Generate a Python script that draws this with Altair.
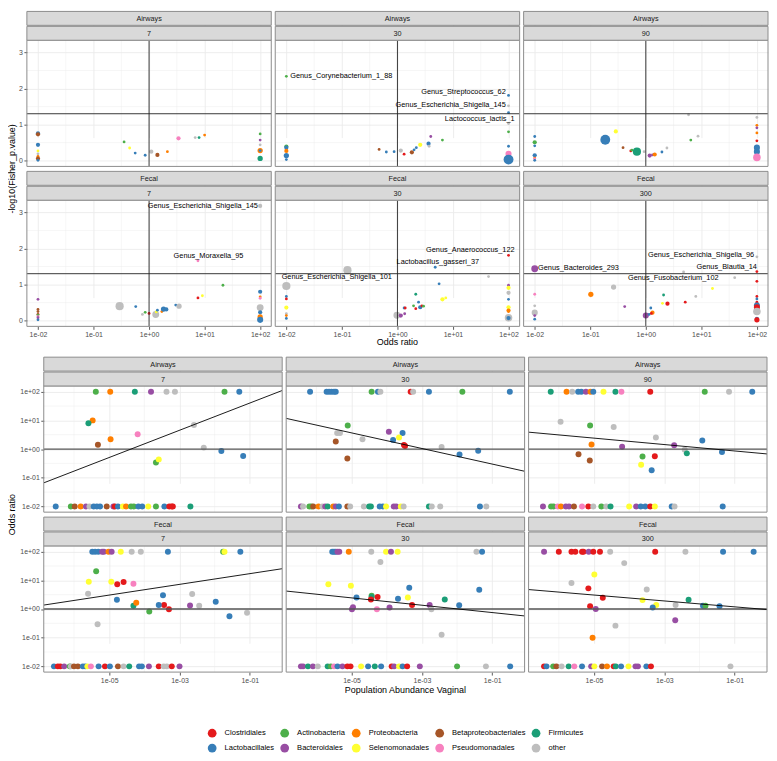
import altair as alt
import pandas as pd

FONT = "Liberation Sans"

CODE = {"C": "Clostridiales", "L": "Lactobacillales", "A": "Actinobacteria", "B": "Bacteroidales",
        "P": "Proteobacteria", "S": "Selenomonadales", "E": "Betaproteobacteriales",
        "M": "Pseudomonadales", "F": "Firmicutes", "O": "other"}
LEGEND_ORDER = ["Clostridiales", "Actinobacteria", "Proteobacteria", "Betaproteobacteriales", "Firmicutes",
                "Lactobacillales", "Bacteroidales", "Selenomonadales", "Pseudomonadales", "other"]
LEGEND_COLORS = ["#E41A1C", "#4DAF4A", "#FF7F00", "#A65628", "#1B9E77",
                 "#377EB8", "#984EA3", "#FFFF33", "#F781BF", "#BEBEBE"]

SITES = ["Airways", "Airways", "Airways", "Fecal", "Fecal", "Fecal"]
TIMES = ["7", "30", "90", "7", "30", "300"]

# ---------------- top: (order, log10 odds ratio, -log10 p, count) ----------------
TOP_A7 = [
    ("L", -2, 0.76, 2), ("E", -2, 0.73, 2), ("L", -2, 0.44, 2), ("S", -2, 0.27, 1), ("O", -2, 0.19, 1),
    ("P", -2, 0.12, 1), ("E", -2, 0.06, 2), ("L", -2, 0.01, 1),
    ("A", -0.45, 0.52, 1), ("S", -0.35, 0.35, 1), ("L", -0.25, 0.21, 1), ("L", -0.07, 0.15, 1),
    ("O", 0.04, 0.25, 2), ("E", 0.15, 0.16, 2), ("P", 0.33, 0.25, 1), ("M", 0.53, 0.62, 2),
    ("O", 0.83, 0.64, 1), ("F", 0.9, 0.64, 1), ("P", 1.0, 0.71, 1),
    ("A", 2, 0.74, 1), ("B", 2, 0.57, 1), ("O", 2, 0.44, 1), ("P", 2, 0.28, 3), ("L", 2, 0.28, 1), ("F", 2, 0.06, 3),
]
TOP_A30 = [
    ("A", -2, 2.34, 1), ("A", -2, 0.39, 2), ("L", -2, 0.36, 2), ("P", -2, 0.27, 2), ("L", -2, 0.14, 3), ("L", -2, 0.03, 1),
    ("E", -0.33, 0.31, 1), ("L", -0.2, 0.24, 1), ("L", -0.06, 0.25, 1), ("O", 0.06, 0.28, 2), ("C", 0.12, 0.18, 1),
    ("E", 0.26, 0.23, 2), ("L", 0.3, 0.3, 1), ("L", 0.34, 0.36, 1), ("S", 0.41, 0.44, 2), ("L", 0.56, 0.47, 2),
    ("O", 0.57, 0.40, 1), ("B", 0.6, 0.67, 1), ("A", 0.81, 0.57, 1),
    ("L", 2, 1.81, 1), ("O", 2, 1.52, 1), ("L", 2, 1.33, 1), ("O", 2, 1.03, 1), ("A", 2, 0.8, 1), ("L", 2, 0.4, 1),
    ("M", 2, 0.19, 4), ("L", 2, 0.03, 10),
]
TOP_A90 = [
    ("L", -2, 0.67, 1), ("A", -2, 0.51, 2), ("L", -2, 0.41, 1), ("L", -2, 0.15, 2), ("P", -2, 0.07, 1),
    ("M", -2, 0.05, 1), ("L", -2, 0.01, 1),
    ("L", -0.73, 0.58, 10), ("S", -0.54, 0.81, 2), ("E", -0.41, 0.36, 1), ("C", -0.27, 0.27, 1), ("A", -0.25, 0.29, 1),
    ("F", -0.16, 0.25, 7), ("O", -0.03, 0.25, 1), ("B", 0.07, 0.14, 2), ("B", 0.12, 0.16, 1), ("P", 0.16, 0.17, 2),
    ("L", 0.29, 0.24, 1), ("O", 0.38, 0.35, 1), ("O", 0.77, 1.27, 1), ("A", 0.81, 0.57, 1), ("O", 0.94, 0.68, 1),
    ("O", 2, 1.2, 1), ("P", 2, 0.98, 1), ("B", 2, 0.91, 1), ("P", 2, 0.77, 1), ("C", 2, 0.55, 1),
    ("L", 2, 0.36, 4), ("L", 2, 0.25, 4), ("M", 2, 0.09, 6),
]
TOP_F7 = [
    ("O", 2, 3.18, 2), ("M", 0.88, 1.66, 1), ("A", 1.33, 0.98, 1), ("S", 0.96, 0.69, 1), ("C", 0.88, 0.63, 1),
    ("O", -0.53, 0.40, 7), ("L", -0.24, 0.39, 1), ("O", -0.12, 0.17, 1), ("A", -0.07, 0.23, 1), ("C", 0.0, 0.2, 1),
    ("O", 0.12, 0.17, 5), ("S", 0.13, 0.24, 1), ("L", 0.15, 0.29, 1), ("P", 0.23, 0.25, 1), ("L", 0.26, 0.32, 3),
    ("L", 0.31, 0.31, 2), ("L", 0.48, 0.43, 1), ("O", 0.54, 0.40, 3),
    ("B", -2, 0.59, 1), ("E", -2, 0.31, 1), ("E", -2, 0.25, 1), ("C", -2, 0.17, 1), ("A", -2, 0.16, 1),
    ("M", -2, 0.11, 1), ("B", -2, 0.08, 1), ("L", -2, 0.02, 1),
    ("L", 2, 0.8, 2), ("P", 2, 0.66, 1), ("M", 2, 0.62, 1), ("S", 2, 0.40, 1), ("O", 2, 0.36, 5),
    ("L", 2, 0.23, 2), ("P", 2, 0.1, 3), ("L", 2, 0.02, 4),
]
TOP_F30 = [
    ("C", 2, 1.81, 1), ("L", 0.68, 1.48, 1), ("O", -0.9, 1.40, 7), ("O", 1.64, 1.22, 1), ("O", -2, 0.96, 7),
    ("L", 0.75, 1.02, 1), ("F", 0.33, 0.73, 1), ("L", 0.38, 0.51, 1), ("S", 0.81, 0.59, 2), ("S", 0.87, 0.63, 1),
    ("A", 0.29, 0.41, 1), ("C", 0.33, 0.33, 1), ("L", 0.41, 0.37, 2), ("C", 0.44, 0.41, 1), ("A", 0.47, 0.4, 1),
    ("L", 0.12, 0.35, 1), ("C", 0.14, 0.35, 1), ("O", -0.01, 0.15, 5), ("B", 0.06, 0.14, 2), ("B", 0.13, 0.19, 1),
    ("L", -2, 0.67, 1), ("C", -2, 0.6, 1), ("S", -2, 0.36, 2), ("O", -2, 0.19, 1), ("P", -2, 0.14, 1), ("L", -2, 0.06, 1),
    ("B", 2, 0.98, 1), ("S", 2, 0.91, 2), ("O", 2, 0.77, 2), ("L", 2, 0.59, 1), ("S", 2, 0.37, 2),
    ("P", 2, 0.28, 2), ("P", 2, 0.25, 1), ("O", 2, 0.08, 6), ("L", 2, 0.07, 2),
]
TOP_F300 = [
    ("B", -2, 1.44, 5), ("O", 2, 1.77, 1), ("C", 2, 1.36, 1), ("O", 0.68, 1.35, 1), ("O", 1.6, 1.19, 1),
    ("O", -0.58, 0.93, 3), ("S", 1.2, 0.89, 1), ("C", 2, 1.09, 1), ("P", -0.99, 0.73, 3), ("M", -2, 0.73, 1),
    ("O", -2, 0.41, 1), ("F", 0.32, 0.71, 1), ("O", 0.9, 0.67, 1), ("B", -0.38, 0.39, 1), ("S", 0.3, 0.48, 1),
    ("C", 0.39, 0.47, 2), ("C", 0.71, 0.51, 1), ("L", 0.09, 0.35, 1), ("B", 0.0, 0.14, 4), ("L", 0.06, 0.17, 1),
    ("P", 0.12, 0.22, 2), ("C", 0.1, 0.2, 1),
    ("S", -2, 0.23, 2), ("O", -2, 0.22, 4), ("B", -2, 0.14, 1), ("L", -2, 0.04, 1),
    ("C", 2, 0.67, 1), ("L", 2, 0.6, 1), ("C", 2, 0.51, 1), ("L", 2, 0.42, 4), ("C", 2, 0.37, 4),
    ("O", 2, 0.25, 6), ("L", 2, 0.05, 2), ("C", 2, 0.02, 3),
]
TOP_ALL = [TOP_A7, TOP_A30, TOP_A90, TOP_F7, TOP_F30, TOP_F300]

# labels: (text, log10 odds ratio, -log10 p, anchor side)
LAB_A30 = [("Genus_Corynebacterium_1_88", -1.93, 2.34, "left"),
           ("Genus_Streptococcus_62", 1.95, 1.91, "right"),
           ("Genus_Escherichia_Shigella_145", 1.95, 1.55, "right"),
           ("Lactococcus_lactis_1", 2.11, 1.16, "right")]
LAB_F7 = [("Genus_Escherichia_Shigella_145", 1.96, 3.18, "right"),
          ("Genus_Moraxella_95", 1.07, 1.80, "center")]
LAB_F30 = [("Genus_Anaerococcus_122", 2.11, 1.95, "right"),
           ("Lactobacillus_gasseri_37", 1.47, 1.63, "right"),
           ("Genus_Escherichia_Shigella_101", -0.10, 1.21, "right")]
LAB_F300 = [("Genus_Bacteroides_293", -1.94, 1.45, "left"),
            ("Genus_Escherichia_Shigella_96", 1.95, 1.82, "right"),
            ("Genus_Blautia_14", 2.0, 1.50, "right"),
            ("Genus_Fusobacterium_102", 1.31, 1.18, "right")]
LAB_ALL = [[], LAB_A30, [], LAB_F7, LAB_F30, LAB_F300]

# ---------------- bottom: log10 abundance / log10 odds ratio ----------------
A7_HI = [("A", -5.38), ("P", -4.97), ("F", -4.27), ("B", -3.81), ("O", -3.37), ("O", -3.13), ("A", -1.72), ("L", -1.30)]
A7_MID = [("P", -5.47, 1.0), ("F", -5.59, 0.9), ("E", -5.32, 0.15), ("P", -4.96, 0.34), ("M", -4.19, 0.52),
          ("O", -2.59, 0.84), ("O", -2.31, 0.05), ("L", -1.81, -0.07), ("L", -1.19, -0.24), ("A", -3.67, -0.47),
          ("S", -3.59, -0.36)]
A7_LO = [("L", -6.52), ("A", -6.09), ("E", -5.98), ("P", -5.81), ("B", -5.66), ("O", -5.56), ("L", -5.44),
         ("L", -5.35), ("L", -5.26), ("E", -5.07), ("B", -4.88), ("C", -4.84), ("L", -4.75), ("S", -4.61),
         ("P", -4.52), ("A", -4.38), ("A", -4.3), ("L", -4.17), ("L", -4.06), ("S", -3.89), ("A", -3.67),
         ("L", -3.43), ("C", -3.29), ("C", -3.22), ("C", -3.19), ("F", -2.69)]
A7_FIT = (2.08, 0.475)

A30_HI = [("L", -6.18), ("L", -5.71), ("L", -5.64), ("L", -5.57), ("L", -5.5), ("L", -5.45), ("A", -4.43),
          ("L", -4.25), ("O", -4.18), ("C", -3.32), ("O", -3.25), ("L", -2.80), ("A", -1.85), ("L", -0.5)]
A30_MID = [("A", -5.11, 0.82), ("O", -5.41, 0.56), ("O", -5.33, 0.56), ("E", -5.45, 0.26), ("O", -4.69, 0.34),
           ("E", -5.12, -0.33), ("B", -3.94, 0.6), ("L", -3.55, 0.56), ("S", -3.65, 0.4), ("L", -3.82, 0.32),
           ("C", -3.51, 0.14), ("C", -3.48, 0.11), ("O", -2.44, 0.07), ("L", -1.93, -0.19), ("L", -1.40, -0.06)]
A30_LO = [("B", -6.44), ("O", -6.38), ("A", -6.2), ("A", -6.14), ("E", -6.09), ("P", -5.94), ("O", -5.83),
          ("B", -5.75), ("F", -5.68), ("P", -5.52), ("B", -5.45), ("L", -5.36), ("E", -5.12), ("O", -5.04),
          ("O", -4.65), ("F", -4.5), ("F", -4.45), ("L", -4.2), ("L", -4.11), ("S", -4.02), ("B", -3.8),
          ("B", -3.73), ("S", -3.6), ("O", -3.52), ("F", -2.8), ("O", -2.72), ("O", -2.48), ("L", -1.35), ("O", -1.17)]
A30_FIT = (-0.796, -0.272)

A90_HI = [("F", -6.23), ("P", -5.78), ("O", -5.62), ("L", -5.45), ("L", -5.36), ("B", -5.23), ("P", -5.1),
          ("L", -5.02), ("S", -4.73), ("F", -4.39), ("M", -4.22), ("C", -3.4), ("A", -1.85), ("O", -1.16), ("L", -0.5)]
A90_MID = [("O", -5.95, 0.95), ("A", -5.11, 0.82), ("O", -4.44, 0.77), ("P", -5.07, 0.16), ("O", -3.24, 0.4),
           ("B", -4.2, 0.08), ("E", -5.44, -0.18), ("E", -5.12, -0.4), ("B", -2.72, 0.13), ("L", -1.92, 0.3),
           ("O", -2.42, -0.02), ("F", -2.36, -0.15), ("L", -1.36, -0.1), ("A", -3.62, -0.26), ("C", -3.27, -0.25),
           ("S", -3.66, -0.55), ("L", -3.36, -0.74)]
A90_LO = [("B", -6.45), ("A", -6.22), ("A", -6.15), ("M", -6.03), ("P", -5.94), ("B", -5.8), ("B", -5.71),
          ("E", -5.57), ("M", -5.34), ("C", -5.16), ("O", -5.02), ("A", -4.79), ("O", -4.65), ("F", -4.53),
          ("S", -4.0), ("B", -3.8), ("L", -3.67), ("L", -3.54), ("C", -3.4), ("S", -3.27), ("L", -2.79),
          ("O", -2.71), ("L", -1.34)]
A90_FIT = (-0.179, -0.112)

F7_HI = [("L", -5.48), ("L", -5.4), ("L", -5.31), ("B", -5.2), ("B", -5.15), ("P", -5.02), ("B", -4.93),
         ("S", -4.67), ("O", -4.36), ("O", -4.1), ("L", -3.33), ("A", -1.76), ("S", -1.72), ("L", -1.27)]
F7_MID = [("A", -5.37, 1.32), ("S", -5.58, 0.95), ("S", -4.94, 0.95), ("C", -4.77, 0.86), ("C", -4.59, 0.94),
          ("M", -4.31, 0.88), ("O", -5.6, 0.53), ("L", -4.78, 0.32), ("F", -4.31, 0.11), ("P", -4.23, 0.22),
          ("L", -3.47, 0.48), ("C", -3.44, 0.14), ("L", -3.59, 0.14), ("C", -3.3, -0.01), ("A", -3.86, -0.09),
          ("O", -2.64, 0.52), ("B", -2.7, 0.12), ("O", -2.44, 0.11), ("L", -1.97, 0.25), ("L", -1.58, -0.25),
          ("O", -1.08, -0.13), ("O", -5.33, -0.53)]
F7_LO = [("L", -6.57), ("C", -6.46), ("C", -6.39), ("B", -6.28), ("A", -6.12), ("O", -6.09), ("E", -6.0),
         ("E", -5.89), ("L", -5.75), ("L", -5.68), ("S", -5.62), ("M", -5.52), ("L", -5.3), ("C", -5.12),
         ("L", -4.98), ("E", -4.75), ("O", -4.59), ("F", -4.43), ("L", -4.15), ("L", -4.07), ("B", -3.87),
         ("C", -3.59), ("O", -3.45), ("O", -3.36), ("C", -3.22), ("B", -3.0)]
F7_FIT = (1.42, 0.187)

F30_HI = [("L", -5.55), ("L", -5.5), ("L", -5.45), ("B", -5.4), ("B", -5.35), ("P", -5.08), ("O", -4.44),
          ("S", -4.02), ("B", -3.88), ("S", -3.69), ("O", -1.45), ("L", -1.29)]
F30_MID = [("O", -4.18, 1.64), ("S", -5.66, 0.86), ("S", -5.02, 0.81), ("L", -3.36, 0.74), ("L", -1.37, 0.67),
           ("L", -4.86, 0.4), ("A", -4.43, 0.46), ("F", -4.43, 0.42), ("C", -4.26, 0.42), ("C", -4.45, 0.33),
           ("L", -3.68, 0.36), ("S", -3.4, 0.4), ("F", -2.35, 0.33), ("C", -3.28, 0.14), ("B", -2.78, 0.14),
           ("L", -1.94, 0.13), ("B", -4.99, -0.01), ("B", -4.96, 0.06), ("M", -4.28, -0.01), ("B", -3.92, 0.05),
           ("O", -2.73, -0.01), ("O", -2.44, -0.9)]
F30_LO = [("B", -6.44), ("B", -6.38), ("F", -6.24), ("B", -6.1), ("O", -5.96), ("F", -5.68), ("A", -5.59),
          ("M", -5.5), ("L", -5.4), ("B", -5.26), ("C", -5.12), ("C", -5.03), ("S", -4.73), ("L", -4.53),
          ("F", -4.34), ("L", -4.16), ("C", -3.86), ("B", -3.79), ("S", -3.65), ("L", -3.55), ("C", -3.42),
          ("B", -3.06), ("A", -2.0), ("O", -1.18), ("L", -0.49)]
F30_FIT = (-0.252, -0.128)

F300_HI = [("B", -6.42), ("C", -6.0), ("C", -5.64), ("C", -5.53), ("C", -5.34), ("C", -5.3), ("B", -5.15),
           ("C", -5.02), ("C", -4.83), ("O", -4.54), ("C", -3.26), ("O", -2.4), ("L", -1.33), ("L", -0.46)]
F300_MID = [("O", -4.14, 1.6), ("S", -4.99, 1.2), ("O", -5.64, 0.91), ("C", -5.16, 0.72), ("O", -3.5, 0.68),
            ("C", -4.75, 0.39), ("S", -3.62, 0.31), ("F", -2.31, 0.32), ("S", -3.23, 0.14), ("O", -2.68, 0.14),
            ("C", -5.11, 0.1), ("B", -4.95, 0.0), ("L", -3.33, 0.05), ("L", -1.9, 0.11), ("A", -1.83, 0.11),
            ("L", -1.43, 0.1), ("B", -2.69, -0.39), ("O", -4.39, -0.58), ("P", -5.04, -1.0)]
F300_LO = [("C", -6.42), ("L", -6.35), ("A", -6.16), ("E", -6.07), ("O", -5.92), ("F", -5.72), ("M", -5.56),
           ("L", -5.34), ("B", -5.08), ("S", -4.99), ("E", -4.77), ("P", -4.63), ("C", -4.44), ("F", -4.38),
           ("L", -4.23), ("S", -4.02), ("B", -3.82), ("B", -3.75), ("L", -3.51), ("C", -3.38), ("O", -1.12)]
F300_FIT = (-0.028, -0.103)

BOT_ALL = [(A7_HI, A7_MID, A7_LO, A7_FIT), (A30_HI, A30_MID, A30_LO, A30_FIT), (A90_HI, A90_MID, A90_LO, A90_FIT),
           (F7_HI, F7_MID, F7_LO, F7_FIT), (F30_HI, F30_MID, F30_LO, F30_FIT), (F300_HI, F300_MID, F300_LO, F300_FIT)]

# ---------------- layout constants ----------------
TW, TH = 246, 127
BW, BH = 240, 127
ST = 29
DX = 17          # top-left panels extend this far left of their group origin
GRID = "#EBEBEB"
EDGE = "#8C8C8C"
LOGFMT = "'1e' + (datum.value < 0 ? '-' : '+') + '0' + abs(datum.value)"

TX_DOM, TY_DOM = [-2.2, 2.2], [-0.16, 3.34]
BX_DOM, BY_DOM = [-6.86, -0.08], [-2.2, 2.2]


def make_axis(show, values, expr=None, offset=0):
    kw = dict(values=values, labels=show, ticks=show, domain=False, grid=True,
              gridColor=GRID, gridWidth=0.9, labelFontSize=7, labelColor="#4D4D4D",
              labelFont=FONT, tickColor="#333333", tickSize=3, tickWidth=0.8,
              labelPadding=1.5, labelFlush=False, labelOverlap=False, title=None)
    if expr:
        kw["labelExpr"] = expr
    if offset:
        kw["offset"] = offset
    return alt.Axis(**kw)


def color_enc(legend):
    return alt.Color("cls:N", scale=alt.Scale(domain=LEGEND_ORDER, range=LEGEND_COLORS),
                     legend=legend if legend is not None else None)


def frame_layers(x0, x1, H, site, time):
    out = []
    out.append(alt.Chart(pd.DataFrame({"k": [0]})).mark_rect(fillOpacity=0, stroke=EDGE, strokeWidth=1).encode(
        x=alt.value(x0), x2=alt.value(x1), y=alt.value(ST), y2=alt.value(ST + H)))
    for (t, y0, y1) in [(site, 0, 14), (time, 15, 29)]:
        out.append(alt.Chart(pd.DataFrame({"t": [t]})).mark_rect(fill="#D9D9D9", stroke=EDGE, strokeWidth=1).encode(
            x=alt.value(x0), x2=alt.value(x1), y=alt.value(y0), y2=alt.value(y1)))
        out.append(alt.Chart(pd.DataFrame({"t": [t]})).mark_text(
            font=FONT, fontSize=7.3, color="#1A1A1A", align="center", baseline="middle").encode(
            x=alt.value((x0 + x1) / 2), y=alt.value((y0 + y1) / 2 + 0.5), text="t:N"))
    return out


def title_layer(text, x, y, angle=0):
    return alt.Chart(pd.DataFrame({"t": [text]})).mark_text(
        font=FONT, fontSize=9, color="black", align="center", baseline="middle", angle=angle).encode(
        x=alt.value(x), y=alt.value(y), text="t:N")


def top_panel(i):
    W, H = TW, TH
    show_x, show_y = i >= 3, i % 3 == 0
    dx = DX if show_y else 0
    x0, x1 = -dx, W - dx
    df = pd.DataFrame(TOP_ALL[i], columns=["code", "lor", "nlp", "count"])
    df["cls"] = df["code"].map(CODE)
    xs = alt.Scale(domain=TX_DOM, range=[x0, x1], nice=False, zero=False)
    ys = alt.Scale(domain=TY_DOM, range=[ST + H, ST], nice=False, zero=False)
    xa = make_axis(show_x, [-2, -1, 0, 1, 2], LOGFMT)
    ya = make_axis(show_y, [0, 1, 2, 3], offset=dx)
    X = lambda: alt.X("lor:Q", scale=xs, axis=xa)
    Y = lambda: alt.Y("nlp:Q", scale=ys, axis=ya)
    L = []
    L.append(alt.Chart(pd.DataFrame({"lor": [-1.5, -0.5, 0.5, 1.5]})).mark_rule(color=GRID, strokeWidth=0.45).encode(
        x=X(), y=alt.value(ST), y2=alt.value(ST + H)))
    L.append(alt.Chart(pd.DataFrame({"nlp": [0.5, 1.5, 2.5]})).mark_rule(color=GRID, strokeWidth=0.45).encode(
        y=Y(), x=alt.value(x0), x2=alt.value(x1)))
    L.append(alt.Chart(df).mark_circle(opacity=1).encode(
        x=X(), y=Y(), color=color_enc(None),
        size=alt.Size("count:Q", scale=alt.Scale(domain=[1, 10], range=[8, 98]), legend=None)))
    L.append(alt.Chart(pd.DataFrame({"lor": [0.0]})).mark_rule(color="#222222", strokeWidth=0.9).encode(
        x=X(), y=alt.value(ST), y2=alt.value(ST + H)))
    L.append(alt.Chart(pd.DataFrame({"nlp": [1.30103]})).mark_rule(color="#222222", strokeWidth=0.9).encode(
        y=Y(), x=alt.value(x0), x2=alt.value(x1)))
    labs = pd.DataFrame(LAB_ALL[i], columns=["label", "lor", "nlp", "side"])
    for side in ["left", "right", "center"]:
        sub = labs[labs["side"] == side]
        if len(sub):
            L.append(alt.Chart(sub).mark_text(font=FONT, fontSize=7.4, color="black", align=side,
                                              baseline="middle").encode(x=X(), y=Y(), text="label:N"))
    L += frame_layers(x0, x1, H, SITES[i], TIMES[i])
    if i == 0:
        L.append(title_layer("-log10(Fisher_p.value)", x0 - 15, ST + H + 2.5, 270))
    if i == 4:
        L.append(title_layer("Odds ratio", W / 2, ST + H + 16))
    return alt.layer(*L).properties(width=W - dx, height=ST + H)


def bottom_panel(i):
    W, H = BW, BH
    show_x, show_y = i >= 3, i % 3 == 0
    hi, mid, lo, fit = BOT_ALL[i]
    rows = [(c, x, 2.0) for c, x in hi] + [(c, x, y) for c, x, y in mid] + [(c, x, -2.0) for c, x in lo]
    df = pd.DataFrame(rows, columns=["code", "lab", "lor"])
    df["cls"] = df["code"].map(CODE)
    a, b = fit
    fit_df = pd.DataFrame({"lab": BX_DOM, "lor": [a + b * x for x in BX_DOM]})
    xs = alt.Scale(domain=BX_DOM, nice=False, zero=False)
    ys = alt.Scale(domain=BY_DOM, range=[ST + H, ST], nice=False, zero=False)
    xa = make_axis(show_x, [-5, -3, -1], LOGFMT)
    ya = make_axis(show_y, [-2, -1, 0, 1, 2], LOGFMT)
    X = lambda: alt.X("lab:Q", scale=xs, axis=xa)
    Y = lambda: alt.Y("lor:Q", scale=ys, axis=ya)
    legend = None
    if i == 4:
        legend = alt.Legend(orient="none", legendX=-79, legendY=213, direction="horizontal", columns=5,
                            title=None, symbolType="circle", symbolSize=78, symbolStrokeWidth=0,
                            labelFont=FONT, labelFontSize=7.6, labelColor="black",
                            columnPadding=6, rowPadding=6, labelOffset=8, padding=0)
    L = []
    L.append(alt.Chart(pd.DataFrame({"lab": [-6, -4, -2]})).mark_rule(color=GRID, strokeWidth=0.45).encode(
        x=X(), y=alt.value(ST), y2=alt.value(ST + H)))
    L.append(alt.Chart(pd.DataFrame({"lor": [-1.5, -0.5, 0.5, 1.5]})).mark_rule(color=GRID, strokeWidth=0.45).encode(
        y=Y(), x=alt.value(0), x2=alt.value(W)))
    L.append(alt.Chart(df).mark_circle(opacity=1, size=36).encode(x=X(), y=Y(), color=color_enc(legend)))
    L.append(alt.Chart(pd.DataFrame({"lor": [0.0]})).mark_rule(color="#555555", strokeWidth=1.3).encode(
        y=Y(), x=alt.value(0), x2=alt.value(W)))
    L.append(alt.Chart(fit_df).mark_line(color="black", strokeWidth=0.9, clip=True).encode(x=X(), y=Y()))
    L += frame_layers(0, W, H, SITES[i], TIMES[i])
    if i == 0:
        L.append(title_layer("Odds ratio", -32, ST + H + 2.5, 270))
    if i == 4:
        L.append(title_layer("Population Abundance Vaginal", W / 2, ST + H + 18))
    return alt.layer(*L).properties(width=W, height=ST + H)


RES = dict(color="independent", size="independent", x="independent", y="independent")

top_block = alt.concat(*[top_panel(i) for i in range(6)], columns=3, align="each",
                       spacing={"row": 5, "column": 4}, bounds="flush").resolve_scale(**RES)
bottom_block = alt.concat(*[bottom_panel(i) for i in range(6)], columns=3, align="each",
                          spacing={"row": 5, "column": 4}, bounds="flush").resolve_scale(**RES)

chart = alt.vconcat(top_block, bottom_block, spacing=9).resolve_scale(**RES).properties(
    padding=0, background="white").configure_view(stroke=None)

chart.save("out.html", embed_options={"renderer": "svg", "actions": False})
